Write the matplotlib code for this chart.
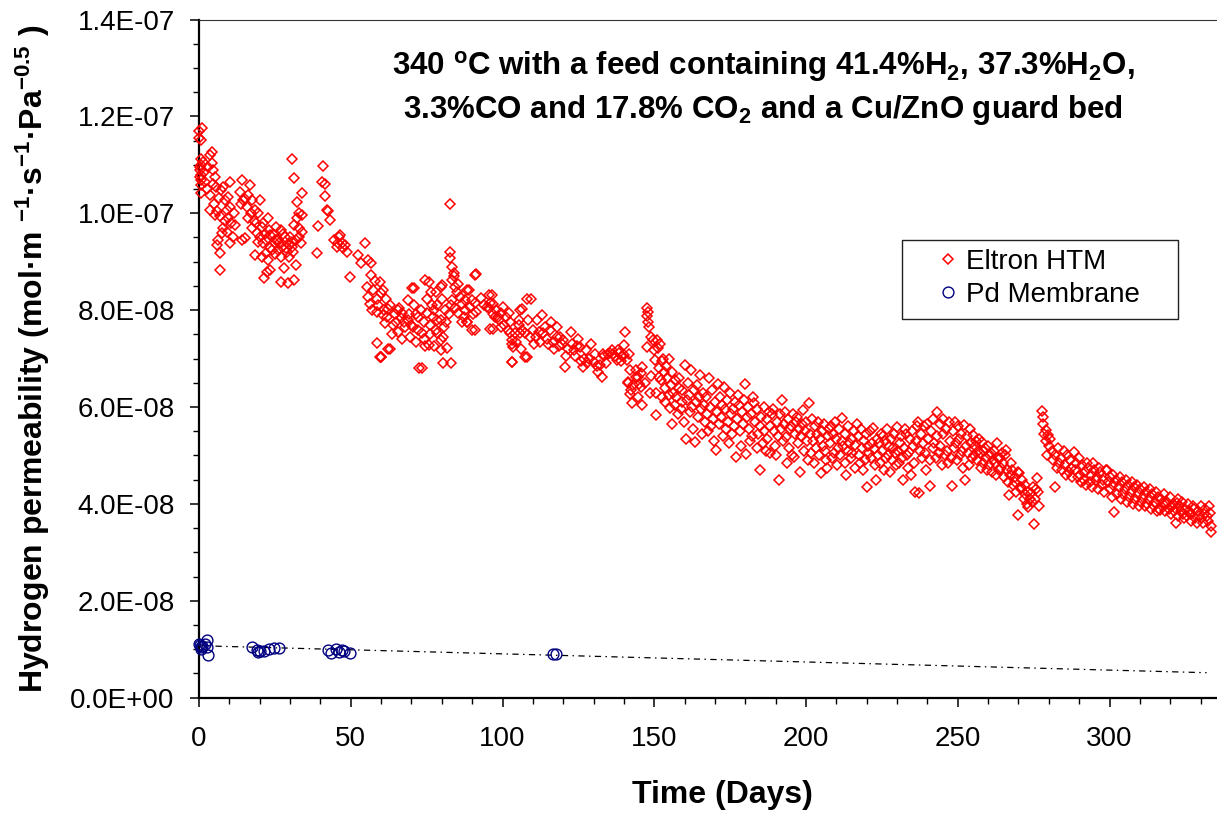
"""Hydrogen permeability vs time: Eltron HTM vs Pd membrane at 340 C."""

import matplotlib
matplotlib.use("Agg")
import matplotlib.pyplot as plt
from matplotlib.patches import Rectangle
from matplotlib.ticker import FuncFormatter, MultipleLocator

# Eltron HTM readings, (day, permeability in 1e-8 mol/m/s/Pa^0.5)
htm_days_0_50 = [
    (0.0, 11.70), (0.9, 11.76), (0.5, 11.52), (0.1, 11.55), (0.5, 11.11), (0.8, 10.99), (0.3, 10.89),
    (0.8, 10.79), (0.5, 10.68), (0.8, 10.58), (0.5, 10.42), (0.2, 10.95), (0.3, 10.75), (1.2, 11.05),
    (1.5, 10.85), (2.0, 10.65), (2.5, 10.50), (3.0, 10.95), (3.5, 10.38), (3.7, 11.20), (4.2, 11.27),
    (4.2, 11.03), (4.7, 10.89), (3.7, 10.07), (5.3, 9.96), (5.8, 9.34), (6.8, 9.18), (6.8, 8.83),
    (6.2, 9.45), (5.5, 10.55), (7.3, 10.48), (6.6, 10.31), (8.0, 10.55), (8.6, 10.27), (9.7, 10.34),
    (10.2, 10.65), (9.1, 10.07), (10.2, 10.13), (8.0, 9.69), (7.5, 9.59), (9.1, 9.62), (10.7, 9.80),
    (11.2, 9.51), (10.2, 9.38), (9.7, 9.90), (5.0, 10.20), (6.0, 10.05), (7.0, 9.95), (8.5, 9.85),
    (4.5, 10.60), (5.2, 10.75), (11.5, 10.00), (12.0, 9.75),
    (14.1, 10.68), (13.6, 10.44), (14.6, 10.27), (15.7, 10.13), (16.8, 10.58), (16.2, 10.38),
    (17.3, 10.27), (18.4, 10.07), (15.1, 9.48), (14.1, 9.45), (20.0, 10.27), (19.5, 10.00),
    (18.9, 9.80), (20.6, 9.72), (21.7, 9.58), (22.8, 9.90), (20.0, 9.51), (21.1, 9.38), (18.4, 9.14),
    (20.6, 9.10), (23.3, 9.28), (22.2, 9.18), (22.8, 9.03), (23.3, 8.83), (22.4, 8.79), (21.3, 8.66),
    (25.5, 9.72), (24.4, 9.58), (26.0, 9.45), (24.9, 9.38), (26.5, 9.38), (27.0, 9.10), (27.6, 9.58),
    (27.0, 8.59), (29.2, 8.57), (28.1, 8.86), (29.7, 9.10), (28.6, 9.28), (30.8, 9.31), (31.3, 8.62),
    (31.9, 8.93), (30.5, 11.13), (31.3, 10.73), (32.4, 10.24), (34.0, 10.42), (32.9, 10.00),
    (34.0, 9.97), (32.4, 9.90), (31.3, 9.76), (34.0, 9.62), (32.9, 9.51), (33.5, 9.38), (32.0, 9.45),
    (15.0, 10.30), (17.0, 10.00), (18.0, 9.85), (19.0, 9.60), (21.0, 9.80), (22.0, 9.45), (23.5, 9.55),
    (24.0, 9.25), (25.0, 9.15), (26.0, 9.25), (27.5, 9.30), (28.5, 9.50), (29.0, 9.20), (30.0, 9.50),
    (30.5, 9.40), (31.0, 9.20), (33.0, 9.70), (16.0, 9.90), (17.5, 9.70), (19.5, 9.40), (13.8, 10.20),
    (23.0, 9.65), (25.5, 9.45), (27.0, 9.65), (29.5, 9.35),
    (39.3, 9.74), (38.8, 9.17), (41.0, 10.98), (40.5, 10.65), (41.6, 10.60), (41.6, 10.35),
    (42.2, 10.07), (42.6, 10.05), (43.3, 9.86), (46.5, 9.55), (45.9, 9.38), (47.0, 9.38), (45.5, 9.31),
    (47.5, 9.28), (48.6, 9.20), (48.0, 9.34), (49.7, 8.69), (44.5, 9.45), (46.0, 9.50),
]

htm_days_50_100 = [
    (52.4, 9.14), (54.6, 9.38), (53.5, 8.97), (55.7, 9.03), (56.8, 8.97), (56.8, 8.72), (55.2, 8.48),
    (55.7, 8.28), (56.2, 8.13), (57.4, 8.41), (58.5, 8.24), (59.6, 8.59), (60.1, 8.35), (58.5, 7.97),
    (58.5, 7.33), (59.6, 7.04), (60.1, 7.04), (62.3, 7.19), (61.2, 7.73), (61.7, 8.24), (60.6, 8.41),
    (62.3, 8.03), (64.5, 7.93), (65.5, 8.00), (66.6, 7.83), (67.7, 7.76), (68.8, 8.21), (69.3, 7.93),
    (70.9, 8.45), (71.4, 7.93), (70.4, 7.66), (72.0, 7.59), (73.6, 6.80), (73.6, 7.52), (75.8, 8.59),
    (75.2, 8.24), (76.3, 8.38), (76.9, 8.10), (75.8, 7.28), (78.5, 8.10), (78.0, 8.38), (79.6, 8.48),
    (80.1, 8.24), (79.6, 7.79), (80.7, 7.66), (78.5, 7.52), (79.6, 7.38), (81.8, 7.21), (82.9, 6.90),
    (82.9, 8.10), (82.4, 7.93), (82.8, 10.20), (82.8, 9.20), (82.8, 9.07), (83.3, 8.90), (83.9, 8.76),
    (83.3, 8.62), (84.4, 8.48), (85.0, 8.38), (85.5, 8.55), (86.0, 8.28), (86.6, 8.13), (87.7, 8.00),
    (87.2, 7.86), (88.2, 7.76), (90.8, 8.72), (88.8, 8.41), (89.8, 8.21), (90.3, 7.93), (89.8, 7.59),
    (89.3, 8.07), (70.1, 8.45), (74.5, 8.62), (80.0, 8.52), (84.0, 8.70), (91.3, 8.74), (88.2, 8.41),
    (90.8, 8.14), (91.4, 7.97), (88.2, 7.76), (90.8, 7.59), (80.4, 6.90), (72.6, 6.80), (63.0, 7.19),
    (60.0, 7.04), (77.5, 7.25), (79.8, 7.17), (74.5, 7.26), (80.5, 7.45), (78.0, 7.60),
    (62.0, 7.85), (63.0, 8.10), (64.0, 7.70), (65.0, 7.75), (66.0, 8.05), (67.0, 7.95), (68.0, 7.65),
    (69.0, 7.80), (70.0, 7.70), (71.0, 8.10), (72.0, 7.85), (73.0, 8.00), (74.0, 7.75), (75.0, 7.95),
    (76.0, 7.70), (77.0, 7.85), (77.5, 8.00), (78.5, 7.80), (81.0, 8.00), (81.5, 7.75), (83.5, 8.20),
    (84.5, 8.05), (85.5, 7.95), (86.5, 7.75), (87.5, 8.20), (57.0, 8.00), (58.0, 8.60), (59.0, 8.10),
    (60.5, 7.90), (61.0, 8.00), (63.5, 7.50), (65.5, 7.55), (67.0, 7.40), (69.5, 7.45), (71.5, 7.35),
    (74.0, 7.40), (76.0, 7.50),
    (96.5, 8.31), (95.4, 8.04), (96.0, 8.14), (95.9, 7.62), (97.5, 7.85), (100.2, 8.07), (99.5, 7.94),
    (94.8, 8.07), (95.5, 8.31), (96.8, 7.93), (97.0, 8.13), (97.0, 7.62), (98.5, 7.86), (99.0, 7.79),
    (93.0, 8.25), (94.0, 8.10), (98.0, 8.00), (99.5, 7.65),
]

htm_days_100_150 = [
    (101.8, 7.59), (102.4, 7.76), (102.5, 7.52), (103.0, 7.38), (103.5, 7.24), (103.0, 6.93),
    (104.0, 7.52), (105.3, 7.79), (105.8, 8.00), (105.8, 7.52), (106.4, 8.02), (106.5, 7.59),
    (107.5, 7.52), (107.5, 7.04), (108.1, 8.24), (109.3, 8.23), (105.3, 7.69), (103.1, 7.31),
    (103.1, 6.94), (108.0, 7.04), (109.0, 7.45), (110.0, 7.59), (111.0, 7.45), (112.0, 7.55),
    (113.5, 7.52), (114.5, 7.40), (115.7, 7.59), (116.5, 7.35), (117.9, 7.45), (118.5, 7.25),
    (119.5, 7.30), (120.6, 6.83), (120.0, 7.38), (121.5, 7.20), (122.7, 7.55), (123.0, 7.31),
    (123.5, 7.17), (124.0, 7.05), (125.5, 7.24), (126.0, 6.95), (126.5, 6.83), (127.6, 7.17),
    (128.5, 7.00), (129.3, 7.31), (130.0, 6.93), (131.0, 6.85), (131.6, 6.73), (132.7, 6.62),
    (132.2, 6.86), (133.5, 7.05), (134.8, 7.10), (135.5, 7.12), (136.0, 7.17), (136.5, 7.10),
    (137.6, 6.97), (138.0, 7.17), (138.5, 7.12), (139.5, 7.05), (140.4, 7.54), (140.0, 7.28),
    (141.7, 7.10), (141.2, 6.49), (142.0, 6.27), (142.8, 6.08), (143.9, 6.76), (144.5, 6.62),
    (145.5, 6.42), (146.0, 6.04), (147.6, 8.04), (147.8, 7.97), (147.6, 7.87), (148.0, 7.76),
    (148.2, 7.66), (147.6, 7.24), (148.8, 7.45), (149.5, 7.38), (150.0, 7.17), (150.2, 6.97),
    (150.6, 6.28), (150.6, 5.84), (140.0, 7.07), (141.0, 6.97), (142.0, 6.76), (141.5, 6.52),
    (142.5, 6.35), (144.0, 6.62), (145.0, 6.48), (148.5, 6.28), (146.0, 6.83), (110.5, 7.30),
    (112.5, 7.35), (114.0, 7.65), (115.0, 7.30), (117.0, 7.20), (119.0, 7.45), (121.0, 7.05),
    (124.5, 7.25), (127.0, 7.00), (128.0, 6.90), (130.5, 7.10), (133.0, 7.10), (134.0, 6.90),
    (137.0, 7.05), (139.0, 6.95), (100.5, 7.70), (101.0, 7.85), (104.5, 7.35), (106.0, 7.20),
    (108.5, 7.80), (111.5, 7.80), (113.0, 7.90), (116.0, 7.75), (118.0, 7.65), (125.0, 7.40),
    (102.0, 7.95), (143.0, 6.45), (144.5, 6.20), (145.5, 6.70), (147.0, 6.50), (149.0, 6.65),
]

htm_days_150_200 = [
    (151.0, 7.38), (151.3, 7.21), (151.7, 6.80), (151.5, 6.62), (152.0, 7.30), (152.3, 6.55),
    (152.7, 6.21), (152.5, 6.95), (153.0, 7.00), (153.3, 6.73), (153.7, 6.40), (153.5, 6.10),
    (154.0, 6.85), (154.3, 6.60), (154.7, 6.25), (155.0, 7.00), (155.3, 5.97), (155.7, 5.66),
    (155.5, 6.45), (156.0, 6.73), (156.3, 6.30), (156.7, 6.05), (157.0, 6.55), (157.3, 6.20),
    (157.7, 5.85), (158.0, 6.60), (158.3, 6.40), (158.7, 5.95), (159.0, 6.35), (159.3, 6.10),
    (159.7, 5.70), (160.0, 6.87), (160.3, 5.35), (160.7, 6.15), (161.0, 6.50), (161.3, 6.25),
    (161.7, 5.90), (162.0, 6.76), (162.3, 6.00), (162.7, 5.55), (163.0, 6.35), (163.3, 5.28),
    (163.7, 6.10), (164.0, 6.45), (164.3, 5.80), (164.7, 6.20), (165.0, 6.66), (165.3, 5.95),
    (165.7, 5.45), (166.0, 6.30), (166.3, 6.05), (166.7, 5.70), (167.0, 6.20), (167.3, 5.85),
    (167.7, 5.50), (168.0, 6.59), (168.3, 6.00), (168.7, 5.60), (169.0, 6.35), (169.3, 5.75),
    (169.7, 5.30), (170.0, 6.10), (170.3, 5.11), (170.7, 5.90), (171.0, 6.48), (171.3, 5.65),
    (171.7, 6.20), (172.0, 5.80), (172.3, 6.05), (172.7, 5.40), (173.0, 6.42), (173.3, 5.95),
    (173.7, 5.55), (174.0, 6.15), (174.3, 5.70), (174.7, 5.25), (175.0, 6.30), (175.3, 5.85),
    (175.7, 5.45), (176.0, 5.95), (176.3, 5.60), (176.7, 6.10), (177.0, 4.97), (177.3, 5.75),
    (177.7, 6.25), (178.0, 6.05), (178.3, 5.50), (178.7, 5.20), (179.0, 5.90), (179.3, 5.65),
    (179.7, 6.15), (180.0, 6.47), (180.3, 5.04), (180.7, 5.80), (181.0, 6.00), (181.3, 5.55),
    (181.7, 5.30), (182.0, 5.85), (182.3, 5.40), (182.7, 6.20), (183.0, 6.08), (183.3, 5.70),
    (183.7, 5.15), (184.0, 5.95), (184.3, 5.45), (184.7, 5.60), (185.0, 4.70), (185.3, 5.80),
    (185.7, 5.25), (186.0, 6.00), (186.3, 5.50), (186.7, 5.10), (187.0, 5.75), (187.3, 5.35),
    (187.7, 5.90), (188.0, 5.60), (188.3, 5.05), (188.7, 5.85), (189.0, 5.95), (189.3, 5.50),
    (189.7, 5.20), (190.0, 5.01), (190.3, 5.70), (190.7, 5.40), (191.0, 4.49), (191.3, 5.85),
    (191.7, 5.55), (192.0, 6.15), (192.3, 5.30), (192.7, 5.65), (193.0, 5.90), (193.3, 5.39),
    (193.7, 4.85), (194.0, 5.75), (194.3, 5.15), (194.7, 5.55), (195.0, 5.60), (195.3, 5.00),
    (195.7, 5.85), (196.0, 4.97), (196.3, 5.45), (196.7, 5.70), (197.0, 5.80), (197.3, 5.25),
    (197.7, 5.55), (198.0, 4.66), (198.3, 5.40), (198.7, 5.65), (199.0, 5.94), (199.3, 5.10),
    (199.7, 5.50), (200.0, 5.70), (200.3, 5.30), (200.7, 4.90),
]

htm_days_200_277 = [
    (201.0, 6.08), (201.3, 5.45), (201.7, 5.05), (202.0, 5.75), (202.3, 5.30), (202.7, 4.85),
    (203.0, 5.60), (203.3, 5.15), (203.7, 5.45), (204.0, 5.70), (204.3, 5.00), (204.7, 5.35),
    (205.0, 4.63), (205.3, 5.50), (205.7, 5.20), (206.0, 5.65), (206.3, 5.10), (206.7, 4.90),
    (207.0, 4.75), (207.3, 5.40), (207.7, 5.55), (208.0, 5.25), (208.3, 5.60), (208.7, 4.95),
    (209.0, 5.45), (209.3, 5.05), (209.7, 5.70), (210.0, 5.35), (210.3, 4.80), (210.7, 5.15),
    (211.0, 5.55), (211.3, 5.00), (211.7, 5.30), (212.0, 5.77), (212.3, 5.20), (212.7, 4.85),
    (213.0, 5.45), (213.3, 4.60), (213.7, 5.10), (214.0, 5.60), (214.3, 5.25), (214.7, 4.95),
    (215.0, 5.35), (215.3, 5.05), (215.7, 5.50), (216.0, 5.21), (216.3, 4.75), (216.7, 5.65),
    (217.0, 5.40), (217.3, 5.00), (217.7, 4.85), (218.0, 5.55), (218.3, 5.15), (218.7, 4.70),
    (219.0, 5.30), (219.3, 4.90), (219.7, 5.45), (220.0, 4.35), (220.3, 5.20), (220.7, 5.05),
    (221.0, 5.50), (221.3, 4.95), (221.7, 5.25), (222.0, 5.56), (222.3, 5.14), (222.7, 4.80),
    (223.0, 4.49), (223.3, 5.35), (223.7, 5.00), (224.0, 5.25), (224.3, 4.85), (224.7, 5.45),
    (225.0, 5.10), (225.3, 5.40), (225.7, 4.70), (226.0, 5.30), (226.3, 4.95), (226.7, 5.55),
    (227.0, 5.00), (227.3, 5.20), (227.7, 4.65), (228.0, 5.35), (228.3, 4.90), (228.7, 5.15),
    (229.0, 5.45), (229.3, 5.05), (229.7, 4.80), (230.0, 5.59), (230.3, 5.10), (230.7, 4.85),
    (231.0, 5.25), (231.3, 5.40), (231.7, 4.95), (232.0, 4.50), (232.3, 5.15), (232.7, 5.55),
    (233.0, 5.45), (233.3, 5.00), (233.7, 4.75), (234.0, 5.07), (234.3, 5.35), (234.7, 4.60),
    (235.0, 5.50), (235.3, 5.20), (235.7, 4.85), (236.0, 4.25), (236.3, 5.30), (236.7, 5.60),
    (237.0, 5.70), (237.3, 4.23), (237.7, 5.10), (238.0, 5.45), (238.3, 4.95), (238.7, 5.25),
    (239.0, 5.60), (239.3, 5.05), (239.7, 4.70), (240.0, 5.66), (240.3, 5.35), (240.7, 4.90),
    (241.0, 4.37), (241.3, 5.50), (241.7, 5.15), (242.0, 5.75), (242.3, 5.25), (242.7, 4.95),
    (243.0, 5.90), (243.3, 5.40), (243.7, 5.05), (244.0, 5.65), (244.3, 5.20), (244.7, 4.80),
    (245.0, 5.76), (245.3, 5.45), (245.7, 5.00), (246.0, 5.55), (246.3, 5.10), (246.7, 4.85),
    (247.0, 5.70), (247.3, 5.30), (247.7, 4.95), (248.0, 4.37), (248.3, 5.50), (248.7, 5.15),
    (249.0, 5.70), (249.3, 5.25), (249.7, 4.90), (250.0, 5.60), (250.3, 5.35), (250.7, 5.00),
    (251.0, 5.45), (251.3, 5.10), (251.7, 4.75), (252.0, 5.63), (252.3, 4.50), (252.7, 5.20),
    (253.0, 5.40), (253.3, 5.05), (253.7, 4.80), (254.0, 5.55), (254.3, 5.25), (254.7, 4.95),
    (255.0, 5.42), (255.3, 5.00), (255.7, 5.20), (256.0, 5.30), (256.3, 4.90), (256.7, 5.10),
    (257.0, 5.35), (257.3, 5.05), (257.7, 4.75), (258.0, 5.28), (258.3, 4.85), (258.7, 5.10),
    (259.0, 5.15), (259.3, 4.95), (259.7, 4.70), (260.0, 5.20), (260.3, 4.80), (260.7, 5.00),
    (261.0, 5.05), (261.3, 4.65), (261.7, 4.90), (262.0, 5.10), (262.3, 4.85), (262.7, 4.60),
    (263.0, 5.25), (263.3, 4.95), (263.7, 4.70), (264.0, 4.94), (264.3, 4.75), (264.7, 5.05),
    (265.0, 4.85), (265.3, 4.55), (265.7, 5.00), (266.0, 5.11), (266.3, 4.70), (266.7, 4.45),
    (267.0, 4.18), (267.3, 4.60), (267.7, 4.85), (268.0, 4.70), (268.3, 4.40), (268.7, 4.55),
    (269.0, 4.45), (269.3, 4.25), (269.7, 4.65), (270.0, 3.77), (270.3, 4.63), (270.7, 4.35),
    (271.0, 4.30), (271.3, 4.50), (271.7, 4.10), (272.0, 4.20), (272.3, 4.40), (272.7, 4.00),
    (273.0, 3.94), (273.3, 4.25), (273.7, 4.10), (274.0, 4.22), (274.3, 4.05), (274.7, 4.35),
    (275.0, 3.59), (275.3, 4.10), (275.7, 4.30), (276.0, 4.53), (276.3, 4.25), (276.7, 3.95),
]

htm_days_277_334 = [
    (277.8, 5.92), (278.0, 5.80), (278.2, 5.65), (278.5, 5.45), (279.0, 5.53), (279.2, 5.30),
    (279.5, 5.01), (279.7, 5.42), (280.0, 5.20), (280.4, 5.35), (281.0, 5.10), (281.4, 4.90),
    (282.0, 5.00), (282.2, 4.34), (282.6, 4.75), (283.0, 5.15), (283.5, 4.85), (284.0, 4.95),
    (284.5, 4.70), (285.0, 5.10), (285.3, 4.80), (285.7, 4.60), (286.0, 5.00), (286.5, 4.65),
    (287.0, 4.90), (287.3, 4.75), (287.7, 4.55), (288.3, 5.08), (288.6, 4.70), (289.0, 4.85),
    (289.5, 4.55), (290.0, 4.95), (290.3, 4.60), (290.7, 4.45), (291.0, 4.80), (291.5, 4.50),
    (292.0, 4.65), (292.7, 4.84), (292.4, 4.40), (293.0, 4.75), (293.5, 4.45), (294.0, 4.60),
    (294.3, 4.35), (294.7, 4.85), (295.0, 4.70), (295.5, 4.50), (296.0, 4.55), (296.3, 4.30),
    (296.7, 4.75), (297.0, 4.65), (297.5, 4.40), (298.0, 4.50), (298.3, 4.25), (298.7, 4.70),
    (299.3, 4.70), (299.6, 4.45), (300.0, 4.55), (300.3, 4.30), (300.7, 4.15), (301.0, 4.40),
    (301.3, 4.60), (301.5, 3.84), (302.0, 4.50), (302.5, 4.20), (303.0, 4.35), (303.3, 4.55),
    (303.7, 4.10), (304.0, 4.45), (304.5, 4.20), (305.0, 4.30), (305.3, 4.50), (305.7, 4.05),
    (306.0, 4.40), (306.5, 4.15), (307.0, 4.25), (307.3, 4.45), (307.7, 4.00), (308.0, 4.35),
    (308.5, 4.10), (309.2, 4.39), (309.4, 4.20), (309.7, 3.95), (310.0, 4.30), (310.5, 4.05),
    (311.0, 4.15), (311.3, 4.35), (311.7, 3.95), (312.0, 4.25), (312.5, 4.00), (313.0, 4.10),
    (313.3, 4.30), (313.7, 3.90), (314.0, 4.20), (314.5, 3.95), (315.0, 4.05), (315.3, 4.25),
    (315.7, 3.85), (316.0, 4.15), (316.4, 3.90), (316.8, 3.87), (317.0, 4.10), (317.5, 4.00),
    (318.0, 4.20), (318.3, 3.85), (318.7, 4.00), (319.0, 4.05), (319.5, 3.90), (320.0, 4.15),
    (320.3, 3.80), (320.7, 3.95), (321.0, 4.00), (321.4, 3.85), (321.8, 3.60), (322.3, 4.01),
    (322.5, 4.10), (322.7, 3.75), (323.0, 3.95), (323.5, 3.85), (324.0, 4.05), (324.3, 3.80),
    (324.7, 3.70), (325.0, 3.90), (325.5, 3.75), (326.0, 4.00), (326.3, 3.85), (326.7, 3.65),
    (327.0, 3.80), (327.5, 3.95), (328.0, 3.90), (328.3, 3.70), (328.7, 3.60), (329.0, 3.85),
    (329.5, 3.75), (330.0, 3.95), (330.3, 3.70), (330.7, 3.60), (331.0, 3.80), (331.5, 3.90),
    (332.0, 3.75), (332.3, 3.65), (332.7, 3.95), (333.0, 3.81), (333.3, 3.43), (333.6, 3.55),
]

# Pd membrane readings, (day, permeability in 1e-8)
pd_days = [0.0, 0.3, 0.6, 1.0, 2.0, 2.7, 2.8, 3.0, 0.5, 17.6, 19.0, 19.5, 20.0, 21.5, 22.9, 24.6,
           26.2, 42.6, 43.4, 45.3, 46.0, 47.0, 47.8, 49.7, 116.8, 117.5]
pd_vals = [1.11, 1.08, 1.04, 1.06, 1.10, 1.19, 1.04, 0.88, 1.00, 1.05, 0.98, 0.95, 0.97, 0.97, 1.00,
           1.02, 1.02, 0.98, 0.92, 1.00, 0.95, 0.98, 0.96, 0.92, 0.90, 0.90]

# Pd trend line end points
trend_days = [0.0, 332.0]
trend_vals = [1.073, 0.516]

x_tick_labels = [0, 50, 100, 150, 200, 250, 300]

SCALE = 1e-8


def flatten(*segments):
    days, vals = [], []
    for seg in segments:
        for d, v in seg:
            days.append(d)
            vals.append(v * SCALE)
    return days, vals


plt.rcParams["font.family"] = ["Liberation Sans", "DejaVu Sans"]
plt.rcParams["mathtext.default"] = "regular"

W, H = 1217, 815
fig = plt.figure(figsize=(W / 100, H / 100), dpi=100)
px_per_day = 3.035
x_max = 350
ax = fig.add_axes([199 / W, 1 - 697.7 / H, x_max * px_per_day / W, (697.7 - 19.5) / H])

htm_d, htm_v = flatten(htm_days_0_50, htm_days_50_100, htm_days_100_150,
                       htm_days_150_200, htm_days_200_277, htm_days_277_334)

ax.plot(trend_days, [v * SCALE for v in trend_vals], color="black", lw=0.9,
        ls=(0, (5, 3.5, 1.2, 3.5)), zorder=2)
h1, = ax.plot(htm_d, htm_v, ls="none", marker="D", ms=4.6, mfc="none", mec="#ff0000",
              mew=1.1, label="Eltron HTM", clip_on=False, zorder=3)
h2, = ax.plot(pd_days, [v * SCALE for v in pd_vals], ls="none", marker="o", ms=7.8, mfc="none",
              mec="#000080", mew=1.0, label="Pd Membrane", clip_on=False, zorder=4)

ax.set_xlim(0, x_max)
ax.set_ylim(0, 1.4e-7)
ax.set_xticks(x_tick_labels)
ax.xaxis.set_minor_locator(MultipleLocator(10))
ax.yaxis.set_major_locator(MultipleLocator(2e-8))
ax.yaxis.set_minor_locator(MultipleLocator(0.5e-8))
ax.yaxis.set_major_formatter(FuncFormatter(lambda v, _: f"{v:.1E}"))

ax.tick_params(which="major", direction="out", length=6.5, width=1.1, labelsize=20)
ax.tick_params(which="minor", direction="out", length=4.5, width=1.0)
ax.tick_params(axis="y", which="major", pad=11)
ax.tick_params(axis="x", which="major", pad=14)

for side in ("left", "bottom"):
    ax.spines[side].set_linewidth(1.6)
ax.spines["top"].set_linewidth(0.8)
ax.spines["top"].set_color("#333333")
ax.spines["right"].set_visible(False)

ax_w = x_max * px_per_day
ax_h = 697.7 - 19.5
ax.set_xlabel("Time (Days)", fontsize=23, fontweight="bold")
ax.xaxis.set_label_coords((722 - 199) / ax_w, -(780 - 697.7) / ax_h)
ax.set_ylabel("Hydrogen permeability (mol·m $^{-1}$·s$^{-1}$·Pa$^{-0.5}$ )",
              fontsize=23, fontweight="bold")
ax.yaxis.set_label_coords((52 - 199) / ax_w, 0.5)

title_1 = "340 $^{o}$C with a feed containing 41.4%H$_2$, 37.3%H$_2$O,"
title_2 = "3.3%CO and 17.8% CO$_2$ and a Cu/ZnO guard bed"
fig.text(763 / W, 1 - 67 / H, title_1, ha="center", va="center", fontsize=22.5, fontweight="bold")
fig.text(763 / W, 1 - 110 / H, title_2, ha="center", va="center", fontsize=22.5, fontweight="bold")

ax.legend(handles=[h1, h2], loc="upper left", bbox_to_anchor=(937 / W, 1 - 249 / H),
          bbox_transform=fig.transFigure, frameon=False, fontsize=20, handlelength=0.8,
          handletextpad=0.25, labelspacing=0.26, borderpad=0, borderaxespad=0, numpoints=1)
fig.add_artist(Rectangle((902 / W, 1 - 319 / H), 276 / W, 79 / H, transform=fig.transFigure,
                         fill=False, ec="#222222", lw=1.0))

fig.savefig("out.png", dpi=100)
